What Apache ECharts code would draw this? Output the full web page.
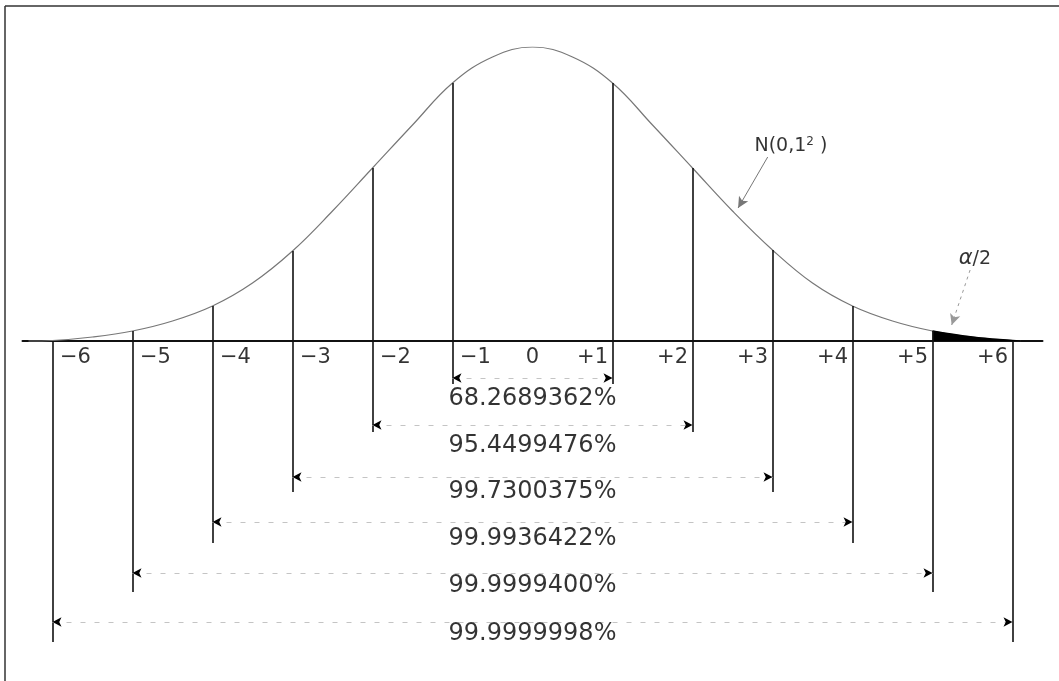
<!DOCTYPE html>
<html>
<head>
<meta charset="utf-8">
<script src="https://cdn.jsdelivr.net/npm/echarts@6/dist/echarts.min.js"></script>
<style>
  html, body { margin: 0; padding: 0; background: #fff; }
  #chart { width: 1059px; height: 681px; }
</style>
</head>
<body>
<div id="chart"></div>
<script>
// bell curve: x in sigma, height above the axis
var curveX = [-6.3, -6, -5.5, -5, -4.5, -4, -3.5, -3, -2.5, -2, -1.5, -1, -0.5, 0, 0.5, 1, 1.5, 2, 2.5, 3, 3.5, 4, 4.5, 5, 5.5, 6, 6.1];
var curveY = [0, 0.5, 4, 10, 20, 35, 58, 90, 130, 173, 216, 258, 284, 294, 284, 258, 216, 173, 130, 91, 58, 35, 20, 10, 4, 0.5, 0];

// shaded tail (alpha/2)
var tailX = [5, 5.5, 6, 6.1];
var tailY = [10, 4, 0.5, 0];

// sigma lines
var sigmaX = [-6, -5, -4, -3, -2, -1, 1, 2, 3, 4, 5, 6];
var sigmaTop = [0, 10, 35, 90, 173, 258, 258, 173, 91, 35, 10, 0];
var sigmaBottom = [-301, -251, -202, -151, -91, -43, -43, -91, -151, -202, -251, -301];

// tick labels under the axis
var tickX = [-6, -5, -4, -3, -2, -1, 0, 1, 2, 3, 4, 5, 6];
var tickText = ['\u22126', '\u22125', '\u22124', '\u22123', '\u22122', '\u22121', '0', '+1', '+2', '+3', '+4', '+5', '+6'];

// coverage ranges: +-k sigma
var rangeK = [1, 2, 3, 4, 5, 6];
var rangeArrowY = [-37, -84, -136, -181, -232, -281];
var rangeTextY = [-58, -105, -151, -198, -245, -293];
var rangeText = ['68.2689362%', '95.4499476%', '99.7300375%', '99.9936422%', '99.9999400%', '99.9999998%'];

// annotations
var normLabel = [3.23, 195];
var normArrow = [[2.94, 184], [2.57, 133]];
var alphaLabel = [5.53, 82];
var alphaArrow = [[5.47, 71], [5.24, 16]];

var FONT = 'DejaVu Sans';
var INK = '#000';
var HIDDEN = 'rgba(0,0,0,0)';

var chart = echarts.init(document.getElementById('chart'));

var curveData = curveX.map(function (x, i) { return [x, curveY[i]]; });
var tailData = tailX.map(function (x, i) { return [x, tailY[i]]; });

var sigmaLines = sigmaX.map(function (x, i) {
  return [{ coord: [x, sigmaTop[i]] }, { coord: [x, sigmaBottom[i]] }];
});
var rangeLines = rangeK.map(function (k, i) {
  return [{ coord: [-k, rangeArrowY[i]] }, { coord: [k, rangeArrowY[i]] }];
});

var tickData = tickX.map(function (x, i) {
  var pos = x < 0 ? 'right' : (x > 0 ? 'left' : 'inside');
  return {
    value: [x, -17],
    label: { position: pos, distance: x < 0 ? 7 : 4, formatter: tickText[i] }
  };
});
var rangeData = rangeK.map(function (k, i) {
  return { value: [0, rangeTextY[i]], label: { formatter: rangeText[i] } };
});

var noLabel = { show: false };

var option = {
  animation: false,
  backgroundColor: '#fff',
  grid: { left: 22.5, right: 16.5, top: 47, bottom: 4 },
  xAxis: {
    type: 'value', min: -6.375, max: 6.375,
    axisLine: { show: true, onZero: true, lineStyle: { color: '#111', width: 2 } },
    axisTick: { show: false }, axisLabel: { show: false }, splitLine: { show: false }
  },
  yAxis: {
    type: 'value', min: -336, max: 294,
    axisLine: { show: false }, axisTick: { show: false }, axisLabel: { show: false }, splitLine: { show: false }
  },
  graphic: [
    { type: 'line', shape: { x1: 5, y1: 6, x2: 1059, y2: 6 }, style: { stroke: '#333', lineWidth: 1.5 } },
    { type: 'line', shape: { x1: 5, y1: 6, x2: 5, y2: 681 }, style: { stroke: '#333', lineWidth: 1.5 } }
  ],
  series: [
    {
      name: 'curve', type: 'line', data: curveData, smooth: 0.4, symbol: 'none',
      lineStyle: { color: '#777', width: 1.2 }, z: 3
    },
    {
      name: 'tail', type: 'line', data: tailData, smooth: 0.4, symbol: 'none',
      lineStyle: { color: '#000', width: 1.5 },
      areaStyle: { color: '#000', opacity: 1, origin: 'auto' }, z: 4
    },
    {
      name: 'sigma', type: 'line', data: [], symbol: 'none',
      markLine: {
        silent: true, symbol: ['none', 'none'], label: noLabel,
        lineStyle: { color: '#111', width: 1.6, type: 'solid' },
        data: sigmaLines
      }
    },
    {
      name: 'rangeDash', type: 'line', data: [], symbol: 'none',
      markLine: {
        silent: true, symbol: ['none', 'none'], label: noLabel,
        lineStyle: { color: '#c4c4c4', width: 1, type: [5, 9] },
        data: rangeLines
      }
    },
    {
      name: 'rangeHeads', type: 'line', data: [], symbol: 'none',
      markLine: {
        silent: true, symbol: ['arrow', 'arrow'], symbolSize: [7, 9], label: noLabel,
        lineStyle: { color: '#000', width: 0.01, type: 'solid' },
        data: rangeLines
      }
    },
    {
      name: 'annotArrows', type: 'line', data: [], symbol: 'none',
      markLine: {
        silent: true, symbol: ['none', 'arrow'], symbolSize: [8, 11], label: noLabel,
        data: [
          [{ coord: normArrow[0], lineStyle: { color: '#777', width: 1, type: 'solid' } }, { coord: normArrow[1] }],
          [{ coord: alphaArrow[0], lineStyle: { color: '#999', width: 1, type: [3, 4] } }, { coord: alphaArrow[1] }]
        ]
      }
    },
    {
      name: 'ticks', type: 'scatter', data: tickData, symbolSize: 1,
      itemStyle: { color: HIDDEN },
      label: { show: true, color: INK, fontFamily: FONT, fontSize: 21 }, z: 5
    },
    {
      name: 'ranges', type: 'scatter', data: rangeData, symbolSize: 1,
      itemStyle: { color: HIDDEN },
      label: { show: true, position: 'inside', color: INK, fontFamily: FONT, fontSize: 24 }, z: 5
    },
    {
      name: 'notes', type: 'scatter', symbolSize: 1, itemStyle: { color: HIDDEN },
      data: [
        { value: normLabel, label: { formatter: 'N(0,1{sup|2} )' } },
        { value: alphaLabel, label: { formatter: '{it|\u03b1}/2' } }
      ],
      label: {
        show: true, position: 'inside', color: INK, fontFamily: FONT, fontSize: 19,
        rich: {
          sup: { fontFamily: FONT, fontSize: 12, color: INK, verticalAlign: 'top', padding: [0, 0, 8, 0] },
          it: { fontFamily: FONT, fontSize: 21, fontStyle: 'italic', color: INK }
        }
      }, z: 5
    }
  ]
};

chart.setOption(option);
</script>
</body>
</html>
